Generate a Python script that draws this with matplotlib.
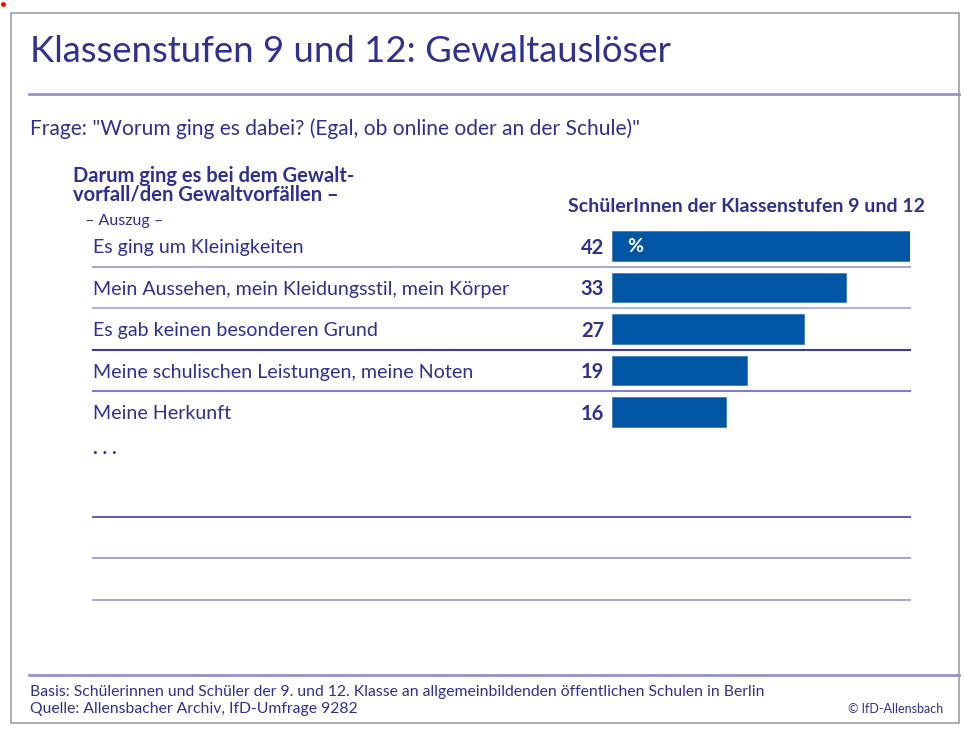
import matplotlib.pyplot as plt
from matplotlib.patches import Rectangle
from matplotlib.transforms import blended_transform_factory

# Daten
categories = [
    "Es ging um Kleinigkeiten",
    "Mein Aussehen, mein Kleidungsstil, mein Körper",
    "Es gab keinen besonderen Grund",
    "Meine schulischen Leistungen, meine Noten",
    "Meine Herkunft",
]
values = [42, 33, 27, 19, 16]

title = "Klassenstufen 9 und 12: Gewaltauslöser"
question = 'Frage: "Worum ging es dabei? (Egal, ob online oder an der Schule)"'
left_header = "Darum ging es bei dem Gewalt-\nvorfall/den Gewaltvorfällen –"
column_header = "SchülerInnen der Klassenstufen 9 und 12"
basis = "Basis: Schülerinnen und Schüler der 9. und 12. Klasse an allgemeinbildenden öffentlichen Schulen in Berlin"
source = "Quelle: Allensbacher Archiv, IfD-Umfrage 9282"

navy = "#2e3192"
bar_blue = "#0055a5"

plt.rcParams["font.family"] = ["Lato", "DejaVu Sans"]

fig = plt.figure(figsize=(9.64, 7.31), dpi=100)

# Hintergrund-Achse in Pixelkoordinaten
bg = fig.add_axes([0, 0, 1, 1])
bg.set_xlim(0, 964)
bg.set_ylim(731, 0)
bg.axis("off")

bg.add_patch(Rectangle((11, 13), 948, 710, fill=False, ec="#a0a0a0", lw=1.2))
bg.plot([3], [4], "o", color="red", ms=2.5)

bg.plot([29, 959], [94, 94], color="#9494c8", lw=2)
bg.plot([29, 959], [675, 675], color="#9494c8", lw=2)

bg.text(30, 52, title, color=navy, fontsize=26.3, va="center", ha="left")
bg.text(30, 129, question, color=navy, fontsize=15.1, va="center", ha="left")
bg.text(73, 185, left_header, color=navy, fontsize=14.5, fontweight="bold",
        va="center", ha="left", linespacing=0.9)
bg.text(85, 221, "– Auszug –", color=navy, fontsize=11.5, va="center", ha="left")
bg.text(925, 207, column_header, color=navy, fontsize=14, fontweight="bold",
        va="center", ha="right")
bg.text(93, 448, ". . .", color=navy, fontsize=14, fontweight="bold",
        va="center", ha="left")

for y, c in zip([517, 558, 600], ["#4c50a8", "#9d9dd2", "#9d9dd2"]):
    bg.plot([93, 910], [y, y], color=c, lw=1.3)

bg.text(30, 692, basis, color=navy, fontsize=11.35, va="center", ha="left")
bg.text(30, 709, source, color=navy, fontsize=11.35, va="center", ha="left")
bg.text(943, 709, "© IfD-Allensbach", color=navy, fontsize=9, va="center", ha="right")

# Balken-Achse
ax = fig.add_axes([612 / 964, 1 - 432.75 / 731, 298 / 964, 207.5 / 731])
ax.set_xlim(0, 42)
ax.set_ylim(len(values) - 0.5, -0.5)
ax.axis("off")

rows = list(range(len(values)))
ax.barh(rows, values, height=0.7, color=bar_blue, edgecolor="#3f7fc0", lw=0.6)

trans = blended_transform_factory(fig.transFigure, ax.transData)
for i, (cat, val) in enumerate(zip(categories, values)):
    ax.text(93 / 964, i + 0.04, cat, transform=trans, color=navy, fontsize=14.1,
            va="center", ha="left")
    ax.text(604 / 964, i + 0.04, str(val), transform=trans, color=navy, fontsize=14.5,
            fontweight="bold", va="center", ha="right")

ax.text(2.1, 0, "%", color="white", fontsize=14, fontweight="bold",
        va="center", ha="left")

sep_colors = ["#a9a9d4", "#b4b4da", "#3b3f9a", "#7f80c0"]
for i, c in enumerate(sep_colors):
    ax.plot([93 / 964, 910 / 964], [i + 0.5, i + 0.5], transform=trans,
            color=c, lw=1.5, clip_on=False)

fig.savefig("out.png", dpi=100)
